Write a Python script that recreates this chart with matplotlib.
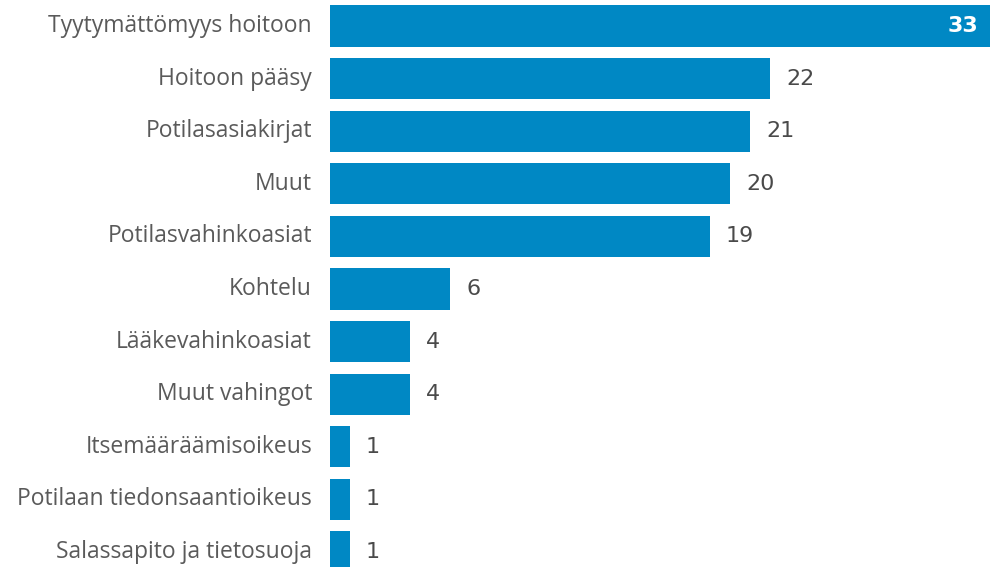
import matplotlib
matplotlib.use("Agg")
import matplotlib.pyplot as plt
from matplotlib import font_manager

categories = ["Tyytymättömyys hoitoon", "Hoitoon pääsy", "Potilasasiakirjat", "Muut",
              "Potilasvahinkoasiat", "Kohtelu", "Lääkevahinkoasiat", "Muut vahingot",
              "Itsemääräämisoikeus", "Potilaan tiedonsaantioikeus", "Salassapito ja tietosuoja"]
values = [33, 22, 21, 20, 19, 6, 4, 4, 1, 1, 1]

bar_color = "#0088c4"
label_color = "#5a5a5a"

names = {f.name for f in font_manager.fontManager.ttflist}
value_font = "Liberation Sans Narrow" if "Liberation Sans Narrow" in names else "DejaVu Sans Condensed"

fig = plt.figure(figsize=(9.91, 5.67), dpi=100)
ax = fig.add_axes([330 / 991, 0, 661 / 991, 1])

pos = list(range(len(categories)))
ax.barh(pos, values, height=0.78, color=bar_color)
ax.set_xlim(0, 33.05)
ax.set_ylim(10.285, -0.494)
ax.axis("off")

for i, (cat, v) in enumerate(zip(categories, values)):
    ax.annotate(cat, xy=(0, i), xytext=(-18, 0), textcoords="offset pixels",
                ha="right", va="center", fontsize=16.5, color=label_color,
                family="Open Sans", annotation_clip=False)
    if i == 0:
        ax.annotate(str(v), xy=(v, i), xytext=(-12, 0), textcoords="offset pixels",
                    ha="right", va="center", fontsize=16, color="white",
                    fontweight="bold", family=value_font)
    else:
        ax.annotate(str(v), xy=(v, i), xytext=(16, 0), textcoords="offset pixels",
                    ha="left", va="center", fontsize=16, color="#4a4a4a",
                    family=value_font, annotation_clip=False)

fig.savefig("out.png", dpi=100)
